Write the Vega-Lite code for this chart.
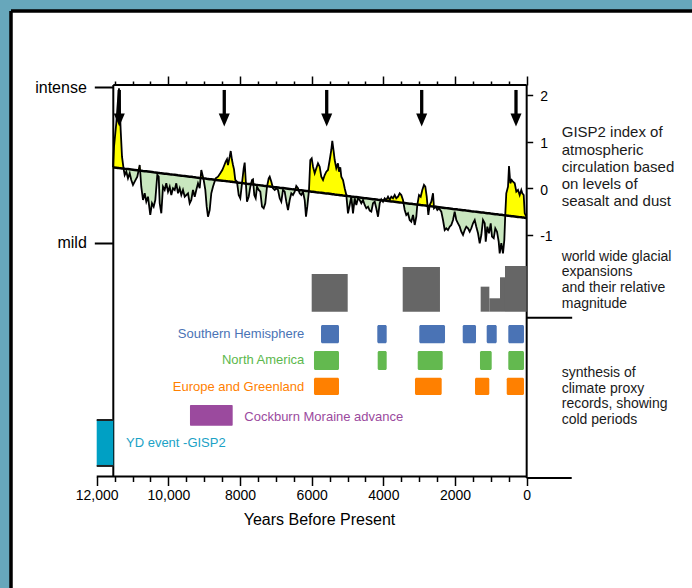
{
"$schema": "https://vega.github.io/schema/vega-lite/v6.json",
"width": 681, "height": 577,
"autosize": {"type": "none"},
"padding": {"left": 11, "top": 11, "right": 0, "bottom": 0},
"background": "#67a7bb",
"config": {"view": {"fill": "white", "stroke": null}, "font": "Liberation Sans"},
"datasets": {
"gisp": [
{"t":11546,"v":0.45,"tr":0.45},{"t":11517,"v":0.891,"tr":0.447},{"t":11453,"v":1.399,"tr":0.441},{"t":11406,"v":1.892,"tr":0.437},{"t":11378,"v":2.143,"tr":0.434},{"t":11331,"v":1.249,"tr":0.43},{"t":11294,"v":0.677,"tr":0.426},{"t":11247,"v":0.407,"tr":0.422},{"t":11219,"v":0.285,"tr":0.419},{"t":11174,"v":0.356,"tr":0.415},
{"t":11127,"v":0.214,"tr":0.411},{"t":11079,"v":0.321,"tr":0.406},{"t":11035,"v":0.178,"tr":0.402},{"t":10987,"v":0.071,"tr":0.398},{"t":10940,"v":0.141,"tr":0.393},{"t":10867,"v":0.249,"tr":0.386},{"t":10800,"v":0.499,"tr":0.38},{"t":10756,"v":0.034,"tr":0.376},{"t":10708,"v":-0.251,"tr":0.371},{"t":10661,"v":-0.107,"tr":0.367},
{"t":10616,"v":-0.287,"tr":0.363},{"t":10569,"v":-0.18,"tr":0.358},{"t":10505,"v":-0.572,"tr":0.352},{"t":10457,"v":-0.321,"tr":0.348},{"t":10410,"v":-0.394,"tr":0.343},{"t":10365,"v":-0.251,"tr":0.339},{"t":10309,"v":0.285,"tr":0.334},{"t":10270,"v":0.249,"tr":0.33},{"t":10242,"v":-0.321,"tr":0.327},{"t":10197,"v":-0.536,"tr":0.323},
{"t":10150,"v":0.034,"tr":0.319},{"t":10103,"v":-0.036,"tr":0.314},{"t":10058,"v":0.107,"tr":0.31},{"t":10010,"v":-0.073,"tr":0.306},{"t":9963,"v":0.034,"tr":0.301},{"t":9918,"v":-0.144,"tr":0.297},{"t":9871,"v":0,"tr":0.293},{"t":9823,"v":-0.036,"tr":0.288},{"t":9779,"v":0.107,"tr":0.284},{"t":9731,"v":-0.107,"tr":0.279},
{"t":9684,"v":0,"tr":0.275},{"t":9639,"v":-0.144,"tr":0.271},{"t":9592,"v":-0.036,"tr":0.266},{"t":9544,"v":-0.18,"tr":0.262},{"t":9452,"v":-0.107,"tr":0.253},{"t":9405,"v":-0.321,"tr":0.249},{"t":9360,"v":-0.251,"tr":0.245},{"t":9313,"v":-0.036,"tr":0.24},{"t":9265,"v":-0.18,"tr":0.236},{"t":9221,"v":-0.036,"tr":0.231},
{"t":9173,"v":0.107,"tr":0.227},{"t":9126,"v":0,"tr":0.222},{"t":9081,"v":0.392,"tr":0.218},{"t":9014,"v":0.178,"tr":0.212},{"t":8969,"v":-0.036,"tr":0.208},{"t":8930,"v":-0.394,"tr":0.204},{"t":8894,"v":-0.609,"tr":0.201},{"t":8847,"v":-0.465,"tr":0.196},{"t":8802,"v":-0.107,"tr":0.192},{"t":8755,"v":0.034,"tr":0.188},
{"t":8679,"v":0.214,"tr":0.18},{"t":8615,"v":0.249,"tr":0.174},{"t":8551,"v":0.321,"tr":0.168},{"t":8495,"v":0.392,"tr":0.163},{"t":8448,"v":0.478,"tr":0.159},{"t":8400,"v":0.57,"tr":0.154},{"t":8364,"v":0.621,"tr":0.151},{"t":8336,"v":0.499,"tr":0.148},{"t":8288,"v":0.677,"tr":0.144},{"t":8260,"v":0.799,"tr":0.141},
{"t":8224,"v":0.606,"tr":0.138},{"t":8196,"v":0.499,"tr":0.135},{"t":8168,"v":0.407,"tr":0.132},{"t":8132,"v":0.178,"tr":0.129},{"t":8085,"v":0.141,"tr":0.125},{"t":8037,"v":-0.144,"tr":0.12},{"t":7993,"v":-0.214,"tr":0.116},{"t":7945,"v":0.107,"tr":0.111},{"t":7898,"v":0.429,"tr":0.107},{"t":7870,"v":0.549,"tr":0.104},
{"t":7842,"v":0.178,"tr":0.102},{"t":7806,"v":-0.287,"tr":0.098},{"t":7758,"v":-0.18,"tr":0.094},{"t":7713,"v":0.034,"tr":0.09},{"t":7666,"v":0.178,"tr":0.085},{"t":7638,"v":0.193,"tr":0.083},{"t":7602,"v":-0.144,"tr":0.079},{"t":7563,"v":-0.214,"tr":0.075},{"t":7526,"v":0.034,"tr":0.072},{"t":7479,"v":-0.036,"tr":0.068},
{"t":7434,"v":-0.073,"tr":0.063},{"t":7387,"v":-0.394,"tr":0.059},{"t":7340,"v":-0.429,"tr":0.054},{"t":7295,"v":-0.321,"tr":0.05},{"t":7247,"v":0.034,"tr":0.046},{"t":7200,"v":0.214,"tr":0.041},{"t":7172,"v":0.249,"tr":0.039},{"t":7127,"v":0.141,"tr":0.034},{"t":7080,"v":0,"tr":0.03},{"t":7032,"v":-0.036,"tr":0.025},
{"t":6988,"v":0,"tr":0.021},{"t":6940,"v":-0.036,"tr":0.017},{"t":6893,"v":-0.214,"tr":0.012},{"t":6848,"v":-0.287,"tr":0.008},{"t":6801,"v":-0.036,"tr":0.004},{"t":6753,"v":-0.073,"tr":-0.001},{"t":6709,"v":-0.287,"tr":-0.005},{"t":6661,"v":-0.465,"tr":-0.009},{"t":6614,"v":-0.251,"tr":-0.014},{"t":6569,"v":-0.107,"tr":-0.018},
{"t":6522,"v":-0.144,"tr":-0.023},{"t":6474,"v":-0.073,"tr":-0.027},{"t":6430,"v":0.049,"tr":-0.031},{"t":6382,"v":0,"tr":-0.036},{"t":6335,"v":-0.107,"tr":-0.04},{"t":6290,"v":-0.144,"tr":-0.044},{"t":6243,"v":-0.073,"tr":-0.049},{"t":6195,"v":-0.251,"tr":-0.053},{"t":6159,"v":-0.609,"tr":-0.057},{"t":6123,"v":-0.394,"tr":-0.06},
{"t":6075,"v":-0.036,"tr":-0.065},{"t":6039,"v":0.606,"tr":-0.068},{"t":6000,"v":0.643,"tr":-0.072},{"t":5963,"v":0.463,"tr":-0.075},{"t":5916,"v":0.321,"tr":-0.079},{"t":5871,"v":0.429,"tr":-0.084},{"t":5824,"v":0.536,"tr":-0.088},{"t":5777,"v":0.463,"tr":-0.093},{"t":5732,"v":0.249,"tr":-0.097},{"t":5684,"v":0.178,"tr":-0.101},
{"t":5637,"v":0.285,"tr":-0.106},{"t":5592,"v":0.356,"tr":-0.11},{"t":5545,"v":0.392,"tr":-0.114},{"t":5497,"v":0.606,"tr":-0.119},{"t":5453,"v":0.821,"tr":-0.123},{"t":5425,"v":1.014,"tr":-0.126},{"t":5386,"v":0.784,"tr":-0.129},{"t":5358,"v":0.606,"tr":-0.132},{"t":5313,"v":0.429,"tr":-0.136},{"t":5266,"v":0.536,"tr":-0.141},
{"t":5238,"v":0.356,"tr":-0.143},{"t":5202,"v":0.45,"tr":-0.147},{"t":5174,"v":0.249,"tr":-0.149},{"t":5126,"v":0.178,"tr":-0.154},{"t":5079,"v":0,"tr":-0.158},{"t":5034,"v":-0.144,"tr":-0.162},{"t":4987,"v":-0.536,"tr":-0.167},{"t":4939,"v":-0.358,"tr":-0.171},{"t":4895,"v":-0.18,"tr":-0.176},{"t":4847,"v":-0.536,"tr":-0.18},
{"t":4800,"v":-0.214,"tr":-0.185},{"t":4755,"v":-0.358,"tr":-0.189},{"t":4708,"v":-0.214,"tr":-0.193},{"t":4660,"v":-0.251,"tr":-0.198},{"t":4615,"v":-0.321,"tr":-0.202},{"t":4568,"v":-0.251,"tr":-0.206},{"t":4521,"v":-0.358,"tr":-0.211},{"t":4476,"v":-0.429,"tr":-0.215},{"t":4428,"v":-0.394,"tr":-0.219},{"t":4381,"v":-0.48,"tr":-0.224},
{"t":4336,"v":-0.501,"tr":-0.228},{"t":4289,"v":-0.321,"tr":-0.233},{"t":4241,"v":-0.287,"tr":-0.237},{"t":4197,"v":-0.429,"tr":-0.241},{"t":4149,"v":-0.609,"tr":-0.246},{"t":4102,"v":-0.321,"tr":-0.25},{"t":4057,"v":-0.236,"tr":-0.254},{"t":4010,"v":-0.287,"tr":-0.259},{"t":3962,"v":-0.214,"tr":-0.263},{"t":3918,"v":-0.251,"tr":-0.267},
{"t":3870,"v":-0.18,"tr":-0.272},{"t":3823,"v":-0.251,"tr":-0.276},{"t":3778,"v":-0.18,"tr":-0.281},{"t":3731,"v":-0.214,"tr":-0.285},{"t":3683,"v":-0.144,"tr":-0.29},{"t":3639,"v":-0.214,"tr":-0.294},{"t":3591,"v":-0.18,"tr":-0.298},{"t":3544,"v":-0.107,"tr":-0.303},{"t":3499,"v":-0.144,"tr":-0.307},{"t":3452,"v":-0.251,"tr":-0.311},
{"t":3404,"v":-0.465,"tr":-0.316},{"t":3360,"v":-0.572,"tr":-0.32},{"t":3312,"v":-0.536,"tr":-0.324},{"t":3265,"v":-0.679,"tr":-0.329},{"t":3220,"v":-0.716,"tr":-0.333},{"t":3172,"v":-0.572,"tr":-0.338},{"t":3125,"v":-0.786,"tr":-0.342},{"t":3080,"v":-0.609,"tr":-0.346},{"t":3053,"v":-0.358,"tr":-0.349},{"t":3005,"v":-0.144,"tr":-0.353},
{"t":2958,"v":-0.18,"tr":-0.358},{"t":2913,"v":-0.036,"tr":-0.362},{"t":2866,"v":0.071,"tr":-0.366},{"t":2829,"v":0.034,"tr":-0.37},{"t":2790,"v":-0.18,"tr":-0.374},{"t":2745,"v":-0.572,"tr":-0.378},{"t":2706,"v":-0.358,"tr":-0.381},{"t":2662,"v":-0.287,"tr":-0.386},{"t":2614,"v":-0.107,"tr":-0.39},{"t":2586,"v":-0.429,"tr":-0.393},
{"t":2539,"v":-0.394,"tr":-0.397},{"t":2494,"v":-0.465,"tr":-0.401},{"t":2447,"v":-0.429,"tr":-0.406},{"t":2383,"v":-0.501,"tr":-0.412},{"t":2335,"v":-0.679,"tr":-0.416},{"t":2288,"v":-0.894,"tr":-0.421},{"t":2243,"v":-0.857,"tr":-0.425},{"t":2196,"v":-0.894,"tr":-0.429},{"t":2148,"v":-0.823,"tr":-0.434},{"t":2104,"v":-0.786,"tr":-0.438},
{"t":2056,"v":-0.679,"tr":-0.443},{"t":2009,"v":-0.501,"tr":-0.447},{"t":1964,"v":-0.679,"tr":-0.451},{"t":1917,"v":-0.75,"tr":-0.456},{"t":1869,"v":-0.823,"tr":-0.46},{"t":1824,"v":-0.93,"tr":-0.464},{"t":1777,"v":-1.001,"tr":-0.469},{"t":1730,"v":-0.894,"tr":-0.473},{"t":1685,"v":-0.823,"tr":-0.478},{"t":1637,"v":-0.857,"tr":-0.482},
{"t":1590,"v":-0.93,"tr":-0.486},{"t":1545,"v":-0.857,"tr":-0.491},{"t":1498,"v":-0.75,"tr":-0.495},{"t":1450,"v":-0.679,"tr":-0.5},{"t":1406,"v":-0.823,"tr":-0.504},{"t":1358,"v":-0.964,"tr":-0.508},{"t":1311,"v":-1.178,"tr":-0.513},{"t":1266,"v":-1.001,"tr":-0.517},{"t":1219,"v":-0.679,"tr":-0.521},{"t":1171,"v":-0.75,"tr":-0.526},
{"t":1143,"v":-1.144,"tr":-0.528},{"t":1099,"v":-0.823,"tr":-0.533},{"t":1051,"v":-0.964,"tr":-0.537},{"t":1004,"v":-0.75,"tr":-0.542},{"t":968,"v":-1.037,"tr":-0.545},{"t":920,"v":-1.071,"tr":-0.549},{"t":876,"v":-0.857,"tr":-0.554},{"t":828,"v":-0.93,"tr":-0.558},{"t":781,"v":-1.144,"tr":-0.563},{"t":753,"v":-1.393,"tr":-0.565},
{"t":708,"v":-1.178,"tr":-0.569},{"t":661,"v":-1.393,"tr":-0.574},{"t":624,"v":-1.108,"tr":-0.577},{"t":596,"v":-0.536,"tr":-0.58},{"t":569,"v":-0.107,"tr":-0.582},{"t":521,"v":0.034,"tr":-0.587},{"t":493,"v":0.478,"tr":-0.59},{"t":457,"v":0.107,"tr":-0.593},{"t":418,"v":0.178,"tr":-0.597},{"t":382,"v":0.141,"tr":-0.6},
{"t":334,"v":0.107,"tr":-0.605},{"t":289,"v":-0.073,"tr":-0.609},{"t":242,"v":-0.036,"tr":-0.613},{"t":195,"v":-0.144,"tr":-0.618},{"t":150,"v":-0.036,"tr":-0.622},{"t":122,"v":-0.107,"tr":-0.625},{"t":83,"v":-0.144,"tr":-0.628},{"t":55,"v":-0.536,"tr":-0.631},{"t":10,"v":-0.609,"tr":-0.635}
],
"arrows": [{"t":11370},{"t":8440},{"t":5581},{"t":2930},{"t":298}],
"glacial": [
{"s":6000,"e":4995,"mag":-1.836},{"s":3460,"e":2420,"mag":-1.686},{"s":1284,"e":1042,"mag":-2.108},{"s":1042,"e":744,"mag":-2.357},{"s":744,"e":605,"mag":-1.907},{"s":605,"e":0,"mag":-1.665}
],
"proxy": [
{"region":"SH","s":5740,"e":5238},{"region":"SH","s":4169,"e":3907},{"region":"SH","s":2997,"e":2279},{"region":"SH","s":1785,"e":1414},{"region":"SH","s":1116,"e":836},{"region":"SH","s":513,"e":75},
{"region":"NA","s":5936,"e":5238},{"region":"NA","s":4158,"e":3907},{"region":"NA","s":3041,"e":2344},{"region":"NA","s":1303,"e":976},{"region":"NA","s":513,"e":75},
{"region":"EU","s":5936,"e":5238},{"region":"EU","s":3117,"e":2372},{"region":"EU","s":1442,"e":1043},{"region":"EU","s":557,"e":75},
{"region":"CM","s":9397,"e":8205},
{"region":"YD","s":12000,"e":11537}
],
"names": [
{"region":"SH","label":"Southern Hemisphere"},{"region":"NA","label":"North America"},{"region":"EU","label":"Europe and Greenland"},{"region":"CM","label":"Cockburn Moraine advance"},{"region":"YD","label":"YD event -GISP2"}
],
"frame": [
{"x":11537,"x2":0,"y":2.213,"y2":2.213},
{"x":11537,"x2":11537,"y":2.213,"y2":-6.175},
{"x":0,"x2":0,"y":2.213,"y2":-6.207},
{"x":12000,"x2":0,"y":-6.175,"y2":-6.175},
{"x":0,"x2":-1257,"y":-6.207,"y2":-6.207},
{"x":0,"x2":-1270,"y":-2.773,"y2":-2.773}
],
"panel": [
{"x":14392,"x2":14392,"y":3.799,"y2":-8.565},
{"x":14392,"x2":-4614,"y":3.799,"y2":3.799}
],
"notes": [
{"block":1,"text":"GISP2 index of\natmospheric\ncirculation based\non levels of\nseasalt and dust"},
{"block":2,"text":"world wide glacial\nexpansions\nand their relative\nmagnitude"},
{"block":3,"text":"synthesis of\nclimate proxy\nrecords, showing\ncold periods"}
]
},
"resolve": {"axis": {"x": "independent", "y": "independent"}},
"layer": [
{"data": {"name": "gisp"},
 "transform": [{"fold": ["v", "tr"], "as": ["k", "val"]}, {"aggregate": [{"op": "max", "field": "val", "as": "hi"}], "groupby": ["t", "tr"]}],
 "mark": {"type": "area", "color": "#ffff00"},
 "encoding": {
  "x": {"field": "t", "type": "quantitative", "scale": {"domain": [14392, -4614], "nice": false, "zero": false}, "axis": null},
  "y": {"field": "hi", "type": "quantitative", "scale": {"domain": [-8.565, 3.799], "nice": false, "zero": false}, "axis": null},
  "y2": {"field": "tr"}}},
{"data": {"name": "gisp"},
 "transform": [{"fold": ["v", "tr"], "as": ["k", "val"]}, {"aggregate": [{"op": "min", "field": "val", "as": "lo"}], "groupby": ["t", "tr"]}],
 "mark": {"type": "area", "color": "#c9e7bf"},
 "encoding": {
  "x": {"field": "t", "type": "quantitative", "axis": null},
  "y": {"field": "lo", "type": "quantitative", "axis": null},
  "y2": {"field": "tr"}}},
{"data": {"name": "gisp"},
 "mark": {"type": "line", "color": "black", "strokeWidth": 2.5},
 "encoding": {
  "x": {"field": "t", "type": "quantitative",
   "axis": {"orient": "top", "offset": -74, "values": [11500,11000,10500,10000,9500,9000,8500,8000,7500,7000,6500,6000,5500,5000,4500,4000,3500,3000,2500,2000,1500,1000,500,0],
    "labels": false, "domain": false, "grid": false, "title": null, "tickColor": "black", "tickWidth": 1.5,
    "tickSize": {"condition": {"test": "datum.value % 2000 === 0", "value": 9}, "value": 4}}},
  "y": {"field": "tr", "type": "quantitative",
   "axis": {"orient": "left", "offset": -102.3, "values": [2.164, -1.172], "labelExpr": "datum.value > 0 ? 'intense' : 'mild'",
    "domain": false, "grid": false, "title": null, "tickSize": 19, "tickWidth": 2, "tickColor": "black",
    "labelFontSize": 16, "labelColor": "black", "labelPadding": 8, "labelFont": "Liberation Sans"}}}},
{"data": {"name": "gisp"},
 "mark": {"type": "line", "color": "black", "strokeWidth": 1.8},
 "encoding": {
  "x": {"field": "t", "type": "quantitative",
   "axis": {"orient": "bottom", "offset": -111.5, "values": [12000,11500,11000,10500,10000,9500,9000,8500,8000,7500,7000,6500,6000,5500,5000,4500,4000,3500,3000,2500,2000,1500,1000,500,0],
    "labelExpr": "datum.value % 2000 === 0 ? (datum.value >= 10000 ? format(datum.value, ',') : format(datum.value, 'd')) : ''",
    "domain": false, "grid": false, "tickColor": "black", "tickWidth": 1.5,
    "tickSize": {"condition": {"test": "datum.value % 2000 === 0", "value": 9}, "value": 5},
    "labelFontSize": 14, "labelColor": "black", "labelPadding": 3, "labelFlush": false, "labelOverlap": false, "labelFont": "Liberation Sans",
    "title": "Years Before Present", "titleFontSize": 16, "titleFontWeight": "normal", "titleColor": "black", "titleFont": "Liberation Sans",
    "titleX": 308, "titleY": 48, "titleBaseline": "alphabetic", "titleAlign": "center", "titleAnchor": null}},
  "y": {"field": "v", "type": "quantitative",
   "axis": {"orient": "right", "offset": -165.3, "values": [2, 1, 0, -1], "domain": false, "grid": false, "title": null,
    "labelExpr": "datum.value < 0 ? '-' + abs(datum.value) : '' + datum.value",
    "tickSize": 6, "tickWidth": 1.5, "tickColor": "black", "labelFontSize": 14, "labelColor": "black", "labelPadding": 7, "labelOffset": 2, "labelFont": "Liberation Sans"}}}},
{"data": {"name": "arrows"},
 "mark": {"type": "rule", "color": "black", "strokeWidth": 3.3},
 "encoding": {
  "x": {"field": "t", "type": "quantitative", "axis": null},
  "y": {"datum": 2.107, "type": "quantitative", "axis": null},
  "y2": {"datum": 1.57}}},
{"data": {"name": "arrows"},
 "mark": {"type": "point", "shape": "M-0.85,-1L0.85,-1L0,1Z", "size": 169, "filled": true, "color": "black", "opacity": 1},
 "encoding": {
  "x": {"field": "t", "type": "quantitative", "axis": null},
  "y": {"datum": 1.461, "type": "quantitative", "axis": null}}},
{"data": {"name": "frame"},
 "mark": {"type": "rule", "color": "black", "strokeWidth": 2},
 "encoding": {
  "x": {"field": "x", "type": "quantitative", "axis": null}, "x2": {"field": "x2"},
  "y": {"field": "y", "type": "quantitative", "axis": null}, "y2": {"field": "y2"}}},
{"data": {"name": "panel"},
 "mark": {"type": "rule", "color": "black", "strokeWidth": 3.5},
 "encoding": {
  "x": {"field": "x", "type": "quantitative", "axis": null}, "x2": {"field": "x2"},
  "y": {"field": "y", "type": "quantitative", "axis": null}, "y2": {"field": "y2"}}},
{"data": {"name": "glacial"},
 "mark": {"type": "rect", "color": "#666666"},
 "encoding": {
  "x": {"field": "s", "type": "quantitative", "axis": null}, "x2": {"field": "e"},
  "y": {"field": "mag", "type": "quantitative", "axis": null}, "y2": {"datum": -2.644}}},
{"data": {"name": "proxy"}, "transform": [{"filter": "datum.region === 'SH'"}],
 "mark": {"type": "rect", "color": "#4a73b5", "cornerRadius": 1.5},
 "encoding": {"x": {"field": "s", "type": "quantitative", "axis": null}, "x2": {"field": "e"},
  "y": {"datum": -2.929, "type": "quantitative", "axis": null}, "y2": {"datum": -3.321}}},
{"data": {"name": "proxy"}, "transform": [{"filter": "datum.region === 'NA'"}],
 "mark": {"type": "rect", "color": "#63b94f", "cornerRadius": 1.5},
 "encoding": {"x": {"field": "s", "type": "quantitative", "axis": null}, "x2": {"field": "e"},
  "y": {"datum": -3.486, "type": "quantitative", "axis": null}, "y2": {"datum": -3.893}}},
{"data": {"name": "proxy"}, "transform": [{"filter": "datum.region === 'EU'"}],
 "mark": {"type": "rect", "color": "#ff8000", "cornerRadius": 1.5},
 "encoding": {"x": {"field": "s", "type": "quantitative", "axis": null}, "x2": {"field": "e"},
  "y": {"datum": -4.058, "type": "quantitative", "axis": null}, "y2": {"datum": -4.429}}},
{"data": {"name": "proxy"}, "transform": [{"filter": "datum.region === 'CM'"}],
 "mark": {"type": "rect", "color": "#9b4a9e", "cornerRadius": 1},
 "encoding": {"x": {"field": "s", "type": "quantitative", "axis": null}, "x2": {"field": "e"},
  "y": {"datum": -4.643, "type": "quantitative", "axis": null}, "y2": {"datum": -5.087}}},
{"data": {"name": "proxy"}, "transform": [{"filter": "datum.region === 'YD'"}],
 "mark": {"type": "rect", "color": "#00a0c4"},
 "encoding": {"x": {"field": "s", "type": "quantitative", "axis": null}, "x2": {"field": "e"},
  "y": {"datum": -4.965, "type": "quantitative", "axis": null}, "y2": {"datum": -5.95}}},
{"data": {"name": "proxy"}, "transform": [{"filter": "datum.region === 'YD'"}],
 "mark": {"type": "rule", "color": "#222222", "strokeWidth": 2},
 "encoding": {"x": {"field": "s", "type": "quantitative", "axis": null}, "x2": {"field": "e"},
  "y": {"datum": -4.965, "type": "quantitative", "axis": null}}},
{"data": {"name": "proxy"}, "transform": [{"filter": "datum.region === 'YD'"}],
 "mark": {"type": "rule", "color": "#222222", "strokeWidth": 2},
 "encoding": {"x": {"field": "s", "type": "quantitative", "axis": null}, "x2": {"field": "e"},
  "y": {"datum": -5.95, "type": "quantitative", "axis": null}}},
{"data": {"name": "names"}, "transform": [{"filter": "datum.region === 'SH'"}],
 "mark": {"type": "text", "align": "right", "baseline": "middle", "fontSize": 13, "font": "Liberation Sans", "color": "#4a73b5"},
 "encoding": {"x": {"datum": 6206, "type": "quantitative", "axis": null}, "y": {"datum": -3.122, "type": "quantitative", "axis": null}, "text": {"field": "label"}}},
{"data": {"name": "names"}, "transform": [{"filter": "datum.region === 'NA'"}],
 "mark": {"type": "text", "align": "right", "baseline": "middle", "fontSize": 13, "font": "Liberation Sans", "color": "#5cb84c"},
 "encoding": {"x": {"datum": 6206, "type": "quantitative", "axis": null}, "y": {"datum": -3.679, "type": "quantitative", "axis": null}, "text": {"field": "label"}}},
{"data": {"name": "names"}, "transform": [{"filter": "datum.region === 'EU'"}],
 "mark": {"type": "text", "align": "right", "baseline": "middle", "fontSize": 13, "font": "Liberation Sans", "color": "#ff8000"},
 "encoding": {"x": {"datum": 6206, "type": "quantitative", "axis": null}, "y": {"datum": -4.251, "type": "quantitative", "axis": null}, "text": {"field": "label"}}},
{"data": {"name": "names"}, "transform": [{"filter": "datum.region === 'CM'"}],
 "mark": {"type": "text", "align": "left", "baseline": "middle", "fontSize": 13, "font": "Liberation Sans", "color": "#9b4a9e"},
 "encoding": {"x": {"datum": 7881, "type": "quantitative", "axis": null}, "y": {"datum": -4.894, "type": "quantitative", "axis": null}, "text": {"field": "label"}}},
{"data": {"name": "names"}, "transform": [{"filter": "datum.region === 'YD'"}],
 "mark": {"type": "text", "align": "left", "baseline": "middle", "fontSize": 13, "font": "Liberation Sans", "color": "#1ba2c6"},
 "encoding": {"x": {"datum": 11183, "type": "quantitative", "axis": null}, "y": {"datum": -5.451, "type": "quantitative", "axis": null}, "text": {"field": "label"}}},
{"data": {"name": "notes"}, "transform": [{"filter": "datum.block === 1"}],
 "mark": {"type": "text", "align": "left", "baseline": "top", "fontSize": 15, "font": "Liberation Sans", "color": "#1a1a1a", "lineBreak": "\n", "lineHeight": 17.3},
 "encoding": {"x": {"datum": -978, "type": "quantitative", "axis": null}, "y": {"datum": 1.35, "type": "quantitative", "axis": null}, "text": {"field": "text"}}},
{"data": {"name": "notes"}, "transform": [{"filter": "datum.block === 2"}],
 "mark": {"type": "text", "align": "left", "baseline": "top", "fontSize": 14, "font": "Liberation Sans", "color": "#1a1a1a", "lineBreak": "\n", "lineHeight": 15.6},
 "encoding": {"x": {"datum": -978, "type": "quantitative", "axis": null}, "y": {"datum": -1.318, "type": "quantitative", "axis": null}, "text": {"field": "text"}}},
{"data": {"name": "notes"}, "transform": [{"filter": "datum.block === 3"}],
 "mark": {"type": "text", "align": "left", "baseline": "top", "fontSize": 14, "font": "Liberation Sans", "color": "#1a1a1a", "lineBreak": "\n", "lineHeight": 15.8},
 "encoding": {"x": {"datum": -978, "type": "quantitative", "axis": null}, "y": {"datum": -3.803, "type": "quantitative", "axis": null}, "text": {"field": "text"}}}
]
}
